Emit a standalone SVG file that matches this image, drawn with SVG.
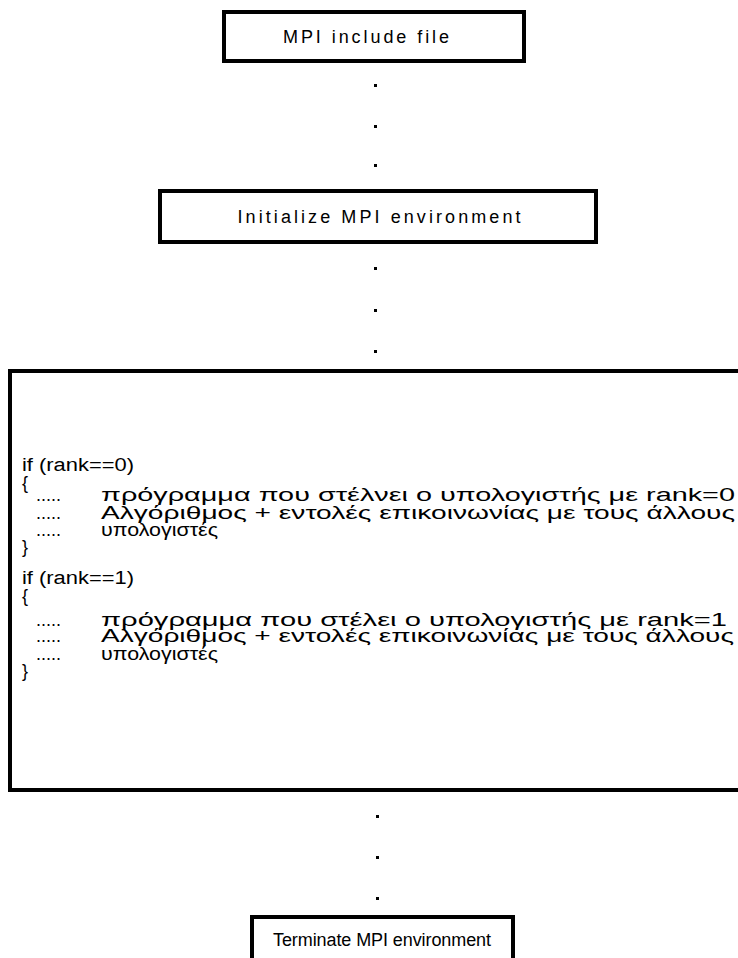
<svg xmlns="http://www.w3.org/2000/svg" width="738" height="958" viewBox="0 0 738 958">
  <style>
    .box { fill: #fff; stroke: #000; stroke-width: 4; }
    .edge { fill: none; stroke: #000; stroke-width: 4; }
    .label { font-family: "Liberation Sans", Arial, sans-serif; font-size: 18px; fill: #000; text-anchor: middle; }
    .code { font-family: "Liberation Sans", Arial, sans-serif; font-size: 18px; fill: #000; }
    .dot { fill: #000; }
  </style>
  <rect width="738" height="958" fill="#fff"/>

  <!-- dotted continuation marks between the stages -->
  <g id="connectors">
    <rect class="dot" x="374" y="84" width="3" height="3"/>
    <rect class="dot" x="374" y="125" width="3" height="3"/>
    <rect class="dot" x="374" y="164" width="3" height="3"/>
    <rect class="dot" x="374" y="267" width="3" height="3"/>
    <rect class="dot" x="374" y="309" width="3" height="3"/>
    <rect class="dot" x="374" y="350" width="3" height="3"/>
    <rect class="dot" x="376" y="815" width="3" height="3"/>
    <rect class="dot" x="376" y="856" width="3" height="3"/>
    <rect class="dot" x="376" y="897" width="3" height="3"/>
  </g>

  <g id="include">
    <rect class="box" x="224" y="12" width="300" height="49"/>
    <text class="label" x="366" y="43" textLength="166" lengthAdjust="spacing">MPI include file</text>
  </g>

  <g id="init">
    <rect class="box" x="160" y="191" width="436" height="51"/>
    <text class="label" x="379" y="223" font-size="19" textLength="283" lengthAdjust="spacing">Initialize MPI environment</text>
  </g>

  <g id="program">
    <path class="edge" d="M738 371 H10 V790 H738"/>
    <text class="code" x="22" y="471" textLength="112" lengthAdjust="spacingAndGlyphs">if (rank==0)</text>
    <text class="code" x="22" y="489">{</text>
    <text class="code" x="36" y="501">.....</text>
    <text class="code" x="101" y="501" textLength="634" lengthAdjust="spacingAndGlyphs">πρόγραμμα που στέλνει ο υπολογιστής με rank=0</text>
    <text class="code" x="36" y="519">.....</text>
    <text class="code" x="101" y="519" textLength="634" lengthAdjust="spacingAndGlyphs">Αλγόριθμος + εντολές επικοινωνίας με τους άλλους</text>
    <text class="code" x="36" y="536">.....</text>
    <text class="code" x="101" y="536" textLength="117" lengthAdjust="spacingAndGlyphs">υπολογιστές</text>
    <text class="code" x="22" y="553">}</text>

    <text class="code" x="22" y="584" textLength="112" lengthAdjust="spacingAndGlyphs">if (rank==1)</text>
    <text class="code" x="22" y="602">{</text>
    <text class="code" x="36" y="626">.....</text>
    <text class="code" x="101" y="626" textLength="626" lengthAdjust="spacingAndGlyphs">πρόγραμμα που στέλει ο υπολογιστής με rank=1</text>
    <text class="code" x="36" y="642">.....</text>
    <text class="code" x="101" y="642" textLength="633" lengthAdjust="spacingAndGlyphs">Αλγόριθμος + εντολές επικοινωνίας με τους άλλους</text>
    <text class="code" x="36" y="660">.....</text>
    <text class="code" x="101" y="660" textLength="117" lengthAdjust="spacingAndGlyphs">υπολογιστές</text>
    <text class="code" x="22" y="677">}</text>
  </g>

  <g id="finalize">
    <path class="edge" d="M252 960 V917 H513 V960"/>
    <text class="label" x="382" y="946" textLength="218" lengthAdjust="spacing">Terminate MPI environment</text>
  </g>
</svg>
